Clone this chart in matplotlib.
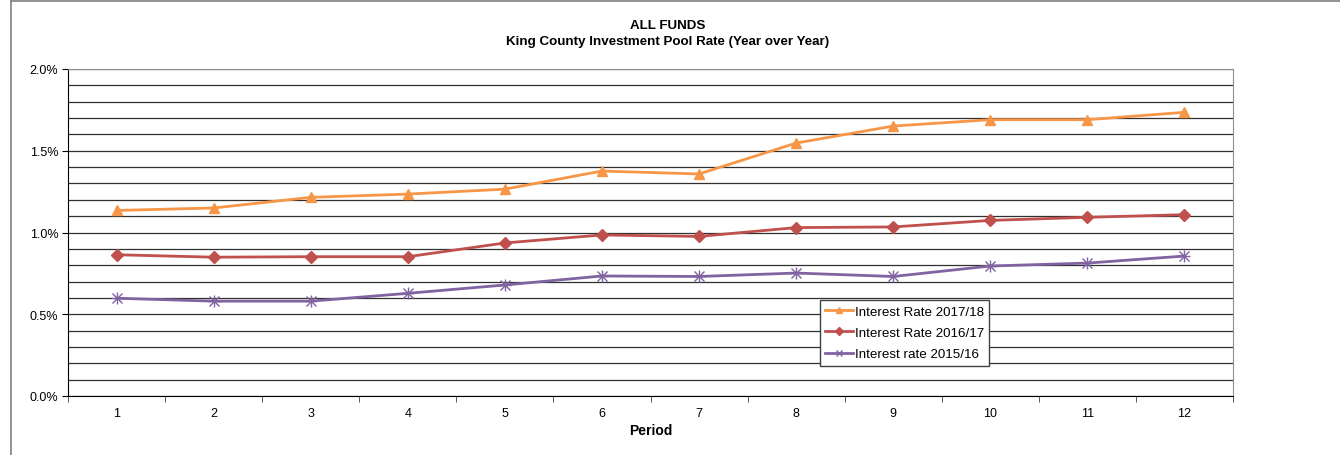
import numpy as np
import matplotlib as mpl
import matplotlib.pyplot as plt
from matplotlib.lines import Line2D
from matplotlib.ticker import FuncFormatter, MultipleLocator

mpl.rcParams.update({
    "font.family": ["Liberation Sans", "DejaVu Sans"],
    "font.size": 9,
    "xtick.labelsize": 9,
    "ytick.labelsize": 9,
})

periods = np.arange(1, 13)
rate_1718 = [1.135, 1.150, 1.215, 1.235, 1.265, 1.376, 1.358, 1.547, 1.651, 1.690, 1.690, 1.735]
rate_1617 = [0.864, 0.849, 0.852, 0.852, 0.936, 0.985, 0.976, 1.030, 1.034, 1.074, 1.093, 1.109]
rate_1516 = [0.598, 0.580, 0.580, 0.628, 0.679, 0.734, 0.731, 0.752, 0.731, 0.795, 0.813, 0.856]

fig = plt.figure(figsize=(13.4, 4.56), dpi=100)
ax = fig.add_axes([68/1340, 1-397/456, (1233-68)/1340, (397-70)/456])

# outer chart frame (only top and left visible in the reference)
fig.add_artist(Line2D([11/1340, 11/1340], [0, 1-1.5/456], color='#808080', lw=1.2, transform=fig.transFigure))
fig.add_artist(Line2D([11/1340, 1], [1-1.5/456, 1-1.5/456], color='#808080', lw=1.2, transform=fig.transFigure))

ax.plot(periods, rate_1718, color='#f79646', lw=2, marker='^', ms=7, label='Interest Rate 2017/18')
ax.plot(periods, rate_1617, color='#c0504d', lw=2, marker='D', ms=6, label='Interest Rate 2016/17')
ax.plot(periods, rate_1516, color='#8064a2', lw=2, marker='x', ms=7, mew=1, label='Interest rate 2015/16')
ax.plot(periods, rate_1516, color='#8064a2', lw=0, marker='+', ms=8, mew=1)

ax.set_xlim(0.5, 12.5)
ax.set_ylim(0, 2.0)
ax.yaxis.set_major_locator(MultipleLocator(0.5))
ax.yaxis.set_minor_locator(MultipleLocator(0.1))
ax.yaxis.set_major_formatter(FuncFormatter(lambda v, p: f'{v:.1f}%'))
ax.grid(which='both', axis='y', color='#303030', lw=0.9)
ax.set_axisbelow(True)
ax.tick_params(axis='y', which='major', length=4, color='black', pad=3)
ax.tick_params(axis='y', which='minor', length=0)

ax.set_xticks(periods)
ax.set_xticks(np.arange(0.5, 13), minor=True)
ax.tick_params(axis='x', which='major', length=0, pad=8)
ax.tick_params(axis='x', which='minor', length=4, color='#404040')

for s in ['top', 'right']:
    ax.spines[s].set_color('#909090')
ax.spines['left'].set_color('black')
ax.spines['bottom'].set_color('black')

ax.set_xlabel('Period', fontweight='bold', fontsize=10, labelpad=3)
fig.text(0.4985, 1-26/456, 'ALL FUNDS', ha='center', va='center', fontweight='bold', fontsize=9.6)
fig.text(0.4985, 1-42/456, 'King County Investment Pool Rate (Year over Year)', ha='center', va='center',
         fontweight='bold', fontsize=9.6)

leg = ax.legend(loc='upper left', bbox_to_anchor=(820/1340, 1-301/456), bbox_transform=fig.transFigure,
                fontsize=9.6, frameon=True, fancybox=False, edgecolor='#404040', framealpha=1,
                handlelength=2.1, handletextpad=0.1, borderpad=0.4, labelspacing=0.68, borderaxespad=0,
                markerscale=0.7)
leg.get_frame().set_linewidth(1.0)

plt.savefig('out.png', dpi=100)
